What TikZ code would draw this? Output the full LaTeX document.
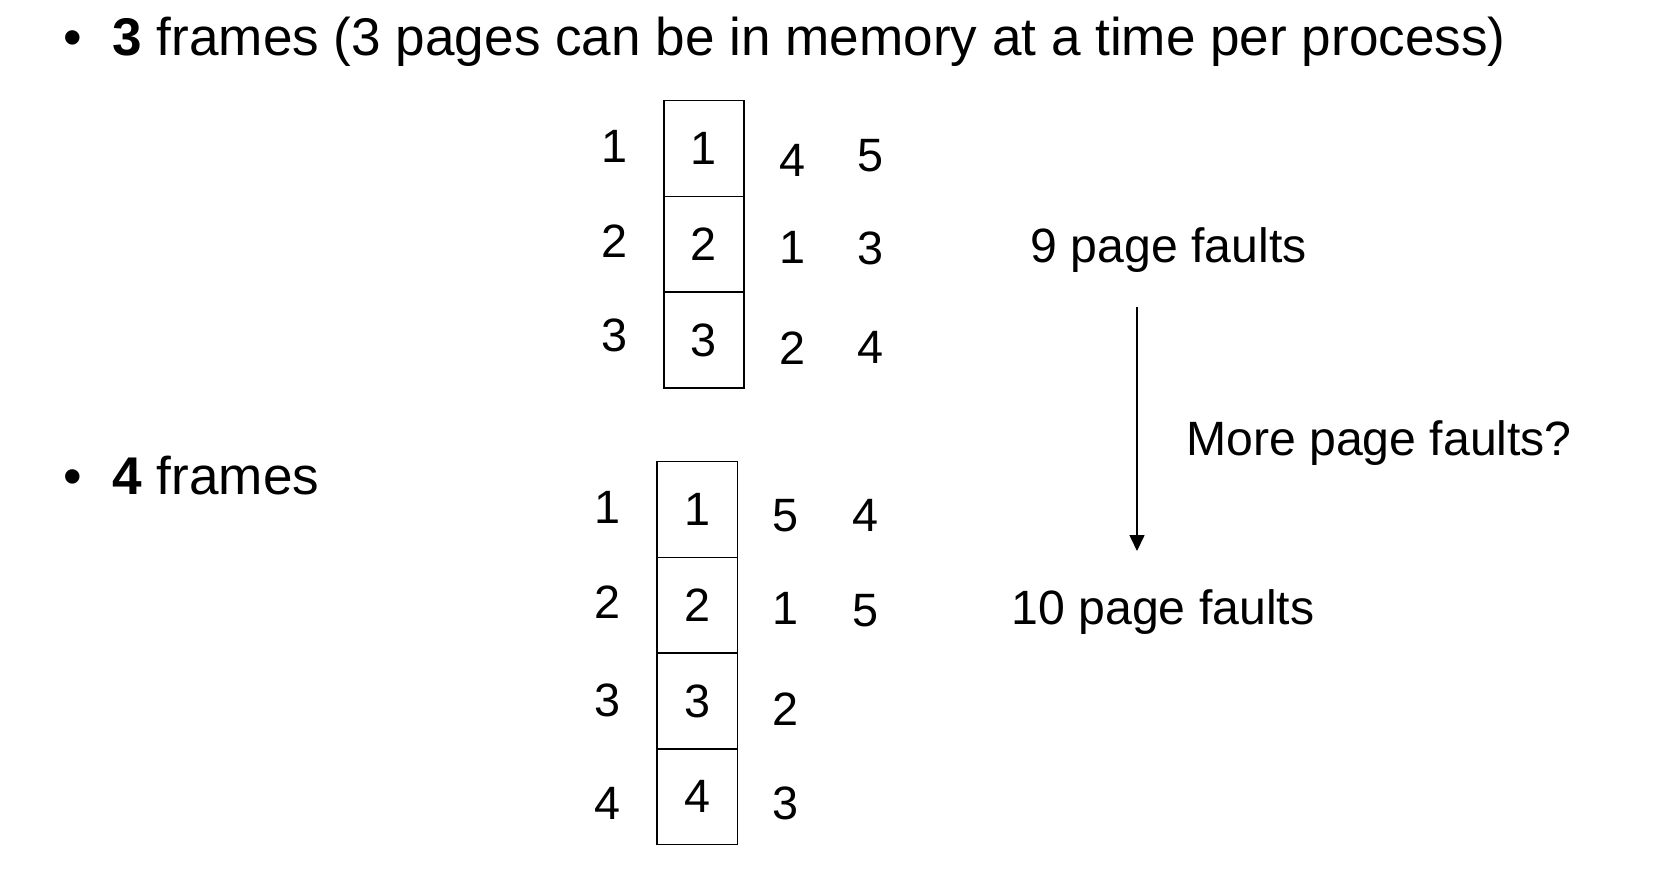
\documentclass[tikz,border=0pt]{standalone}
\usepackage{fontspec}
\setmainfont{Liberation Sans}
\usetikzlibrary{positioning,arrows.meta}

\tikzset{
	head/.style={font=\fontsize{15.1}{18}\selectfont, inner sep=0},
	num/.style={font=\fontsize{13.3}{16}\selectfont, inner sep=0},
	lbl/.style={font=\fontsize{13.7}{16}\selectfont, inner sep=0, anchor=base west},
	cell/.style={draw, line width=0.45pt, minimum width=0.8cm, minimum height=0.957cm, inner sep=0, outer sep=0, font=\fontsize{13.3}{16}\selectfont}
}

\begin{document}
\begin{tikzpicture}[x=0.01cm, y=-0.01cm]
		\useasboundingbox ( 0, 0 ) rectangle ( 1666, 890 );

		% заголовки
		\node [head, anchor=base] (bulA) at ( 73, 55.6 ) {\textbullet};
		\node [head, anchor=base west] (headA) at ( 112, 55.6 ) {\textbf{3} frames (3 pages can be in memory at a time per process)};
		\node [head, anchor=base] (bulB) at ( 73, 494 ) {\textbullet};
		\node [head, anchor=base west] (headB) at ( 112, 494 ) {\textbf{4} frames};

		% три кадра
		\node [cell] (a1) at ( 704, 148.5 ) {1};
		\node [cell, below=0pt of a1] (a2) {2};
		\node [cell, below=0pt of a2] (a3) {3};

		\node [num] (al1) at ( 615, 146.5 ) {1};
		\node [num] (al2) at ( 615, 241 ) {2};
		\node [num] (al3) at ( 615, 335 ) {3};

		\node [num] (ar11) at ( 792, 160 ) {4};
		\node [num] (ar12) at ( 870, 156 ) {5};
		\node [num] (ar21) at ( 792, 247 ) {1};
		\node [num] (ar22) at ( 870, 248 ) {3};
		\node [num] (ar31) at ( 792, 348 ) {2};
		\node [num] (ar32) at ( 870, 347.5 ) {4};

		% четыре кадра
		\node [cell] (b1) at ( 697.3, 509.5 ) {1};
		\node [cell, below=0pt of b1] (b2) {2};
		\node [cell, below=0pt of b2] (b3) {3};
		\node [cell, below=0pt of b3] (b4) {4};

		\node [num] (bl1) at ( 608, 507 ) {1};
		\node [num] (bl2) at ( 608, 601.7 ) {2};
		\node [num] (bl3) at ( 608, 700.8 ) {3};
		\node [num] (bl4) at ( 608, 803.3 ) {4};

		\node [num] (br11) at ( 785, 515.5 ) {5};
		\node [num] (br12) at ( 865, 515.5 ) {4};
		\node [num] (br21) at ( 785, 608 ) {1};
		\node [num] (br22) at ( 865, 610.8 ) {5};
		\node [num] (br31) at ( 785, 708.8 ) {2};
		\node [num] (br41) at ( 785, 803.3 ) {3};

		% число промахов
		\node [lbl] (faultsA) at ( 1030, 262 ) {9 page faults};
		\node [lbl] (more) at ( 1185.5, 455.6 ) {More page faults?};
		\node [lbl] (faultsB) at ( 1011, 624 ) {10 page faults};

		\coordinate (arrA) at ( 1137, 307 );
		\coordinate (arrB) at ( 1137, 551 );
		\draw [line width=0.45pt, -{Triangle[length=1.6mm, width=1.5mm]}] (arrA) -- (arrB);
	\end{tikzpicture}
\end{document}
